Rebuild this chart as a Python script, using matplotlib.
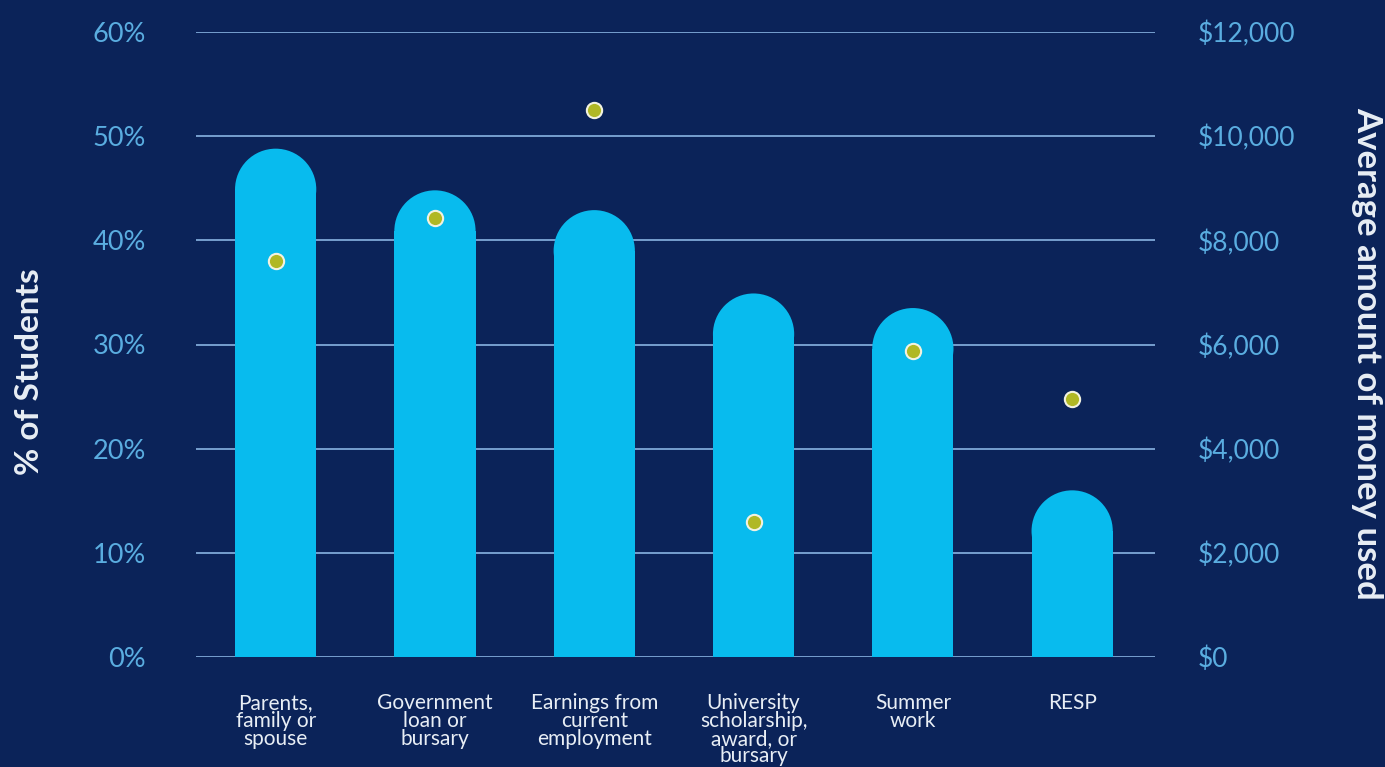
import matplotlib.pyplot as plt
from matplotlib.patches import Ellipse
from matplotlib.ticker import FuncFormatter
import numpy as np

# data
categories = ["Parents,\nfamily or\nspouse", "Government\nloan or\nbursary",
              "Earnings from\ncurrent\nemployment", "University\nscholarship,\naward, or\nbursary",
              "Summer\nwork", "RESP"]
pct_students = [48.8, 44.8, 42.9, 34.9, 33.5, 16.0]
avg_amount = [7600, 8420, 10500, 2600, 5880, 4950]
pct_ticks = [0, 10, 20, 30, 40, 50, 60]
amount_ticks = [0, 2000, 4000, 6000, 8000, 10000, 12000]

BG = "#0b2359"
BAR = "#08bbee"
GRID = "#7fa8d8"
TICK = "#5aade0"
DOT = "#b0b825"
LABEL = "#e8eef5"

fig = plt.figure(figsize=(13.85, 7.67), dpi=100, facecolor=BG)
ax = fig.add_axes([196/1385, 110/767, (1155-196)/1385, (657-32)/767])
ax.set_facecolor(BG)
ax.set_xlim(-0.5, 5.52)
ax.set_ylim(0, 60)

x = np.arange(len(categories))
bar_w = 0.51
# cap radius: half bar width in pixels converted to y units
px_per_unit_y = (657 - 32) / 60.0
cap_r_px = bar_w * (1155 - 196) / 6.02 / 2
cap_r = cap_r_px / px_per_unit_y

ax.bar(x, [v - cap_r for v in pct_students], width=bar_w, color=BAR, zorder=2)
for xi, v in zip(x, pct_students):
    ax.add_patch(Ellipse((xi, v - cap_r), bar_w, 2 * cap_r, color=BAR, zorder=2, lw=0))

ax.set_yticks(pct_ticks)
ax.set_yticklabels([f"{t}%" for t in pct_ticks], fontsize=19.5, color=TICK, family="Lato")
ax.grid(axis="y", color=GRID, lw=1.3, zorder=0)
ax.set_axisbelow(True)
ax.set_xticks(x)
ax.set_xticklabels(categories, fontsize=15, color=LABEL, family="Lato",
                   linespacing=0.86, va="top")
ax.tick_params(axis="y", length=0, pad=36)
ax.tick_params(axis="x", length=0, pad=26)
for s in ax.spines.values():
    s.set_visible(False)

ax2 = ax.twinx()
ax2.set_ylim(0, 12000)
ax2.plot(x, avg_amount, "o", ms=11, color=DOT, mec="#f2f2e0", mew=1.5, zorder=5)
ax2.set_yticks(amount_ticks)
ax2.yaxis.set_major_formatter(FuncFormatter(lambda v, p: f"${int(v):,}"))
for lbl in ax2.get_yticklabels():
    lbl.set_family("Lato")
ax2.tick_params(axis="y", length=0, pad=31, labelsize=19, labelcolor=TICK)
for s in ax2.spines.values():
    s.set_visible(False)

fig.text(30/1385, 1 - 372/767, "% of Students", fontsize=24, fontweight="bold",
         color=LABEL, family="Lato", rotation=90, ha="center", va="center")
fig.text(1367/1385, 1 - 353/767, "Average amount of money used", fontsize=25,
         fontweight="bold", color=LABEL, family="Lato", rotation=270,
         ha="center", va="center")

fig.savefig("out.png", dpi=100, facecolor=BG)
